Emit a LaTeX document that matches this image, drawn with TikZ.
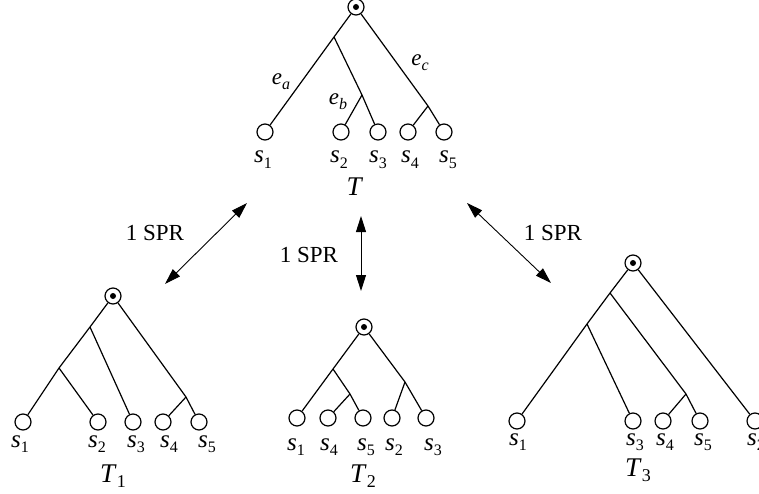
\documentclass[tikz,border=0pt]{standalone}
\usepackage{fontspec}
\setmainfont{Liberation Serif}
\usetikzlibrary{arrows.meta}
\newcommand\lab[2]{\textit{#1}\raisebox{-0.22em}{\fontsize{16}{16}\selectfont #2}}
\newcommand\labT[2]{\textit{#1}\raisebox{-0.2em}{\fontsize{18}{18}\selectfont #2}}
\begin{document}
\begin{tikzpicture}[x=1pt,y=-1pt, line width=1.2pt,
  leaf/.style={draw,circle,minimum size=16pt,inner sep=0pt},
  rootnode/.style={draw,circle,minimum size=16pt,inner sep=0pt},
  txt/.style={font=\fontsize{23}{25}\selectfont, inner sep=0pt},
  sl/.style={font=\fontsize{25}{27}\selectfont, inner sep=0pt, anchor=base},
  tl/.style={font=\fontsize{27}{29}\selectfont, inner sep=0pt, anchor=base},
  dbl/.style={{Triangle[length=16pt,width=10pt]}-{Triangle[length=16pt,width=10pt]}}]
\useasboundingbox (0,0) rectangle (759,494);
\newcommand\rootdot[1]{\fill (#1.center) circle (3pt);}

% ---------------- Tree T ----------------
\node[rootnode] (r) at (356,7) {}; \rootdot{r}
\coordinate (ta) at (334,37);
\coordinate (tb) at (362,95);
\coordinate (tc) at (428,106);
\node[leaf] (t1) at (265,132) {};
\node[leaf] (t2) at (341,132) {};
\node[leaf] (t3) at (378,132) {};
\node[leaf] (t4) at (408,132) {};
\node[leaf] (t5) at (444,132) {};
\draw (r) -- (ta) -- (t1);
\draw (ta) -- (tb) -- (t3);
\draw (tb) -- (t2);
\draw (r) -- (tc) -- (t5);
\draw (tc) -- (t4);
\node[sl] (lt1) at (263,163) {\lab{s}{1}};
\node[sl] (lt2) at (339,163) {\lab{s}{2}};
\node[sl] (lt3) at (378,163) {\lab{s}{3}};
\node[sl] (lt4) at (410,163) {\lab{s}{4}};
\node[sl] (lt5) at (448,163) {\lab{s}{5}};
\node[txt] (ea) at (281,82) {\lab{e}{\textit{a}}};
\node[txt] (eb) at (338,102) {\lab{e}{\textit{b}}};
\node[txt] (ec) at (420,63) {\lab{e}{\textit{c}}};
\node[tl] (tT) at (355,196) {\textit{T}};

% ---------------- Tree T1 ----------------
\node[rootnode] (r1) at (113,296) {}; \rootdot{r1}
\coordinate (aa) at (90,327);
\coordinate (ab) at (59,368);
\coordinate (ac) at (186,397);
\node[leaf] (a1) at (23,422) {};
\node[leaf] (a2) at (98,422) {};
\node[leaf] (a3) at (133,422) {};
\node[leaf] (a4) at (163,422) {};
\node[leaf] (a5) at (199,422) {};
\draw (r1) -- (aa) -- (ab) -- (a1);
\draw (aa) -- (a3);
\draw (ab) -- (a2);
\draw (r1) -- (ac) -- (a5);
\draw (ac) -- (a4);
\node[sl] (la1) at (20,447) {\lab{s}{1}};
\node[sl] (la2) at (97,447) {\lab{s}{2}};
\node[sl] (la3) at (136,447) {\lab{s}{3}};
\node[sl] (la4) at (169,447) {\lab{s}{4}};
\node[sl] (la5) at (207,447) {\lab{s}{5}};
\node[tl] (lT1) at (113,482) {\labT{T}{1}};

% ---------------- Tree T2 ----------------
\node[rootnode] (r2) at (364,327) {}; \rootdot{r2}
\coordinate (ba) at (333,369);
\coordinate (bb) at (350,394);
\coordinate (bc) at (405,382);
\node[leaf] (b1) at (297,418) {};
\node[leaf] (b4) at (328,418) {};
\node[leaf] (b5) at (363,418) {};
\node[leaf] (b2) at (392,418) {};
\node[leaf] (b3) at (426,418) {};
\draw (r2) -- (ba) -- (b1);
\draw (ba) -- (bb) -- (b5);
\draw (bb) -- (b4);
\draw (r2) -- (bc) -- (b3);
\draw (bc) -- (b2);
\node[sl] (lb1) at (296,450) {\lab{s}{1}};
\node[sl] (lb4) at (329,450) {\lab{s}{4}};
\node[sl] (lb5) at (366,450) {\lab{s}{5}};
\node[sl] (lb2) at (394,450) {\lab{s}{2}};
\node[sl] (lb3) at (433,450) {\lab{s}{3}};
\node[tl] (lT2) at (363,482) {\labT{T}{2}};

% ---------------- Tree T3 ----------------
\node[rootnode] (r3) at (633,263) {}; \rootdot{r3}
\coordinate (ca) at (610,293);
\coordinate (cb) at (587,324);
\coordinate (cc) at (686,394);
\node[leaf] (c1) at (517,421) {};
\node[leaf] (c3) at (633,421) {};
\node[leaf] (c4) at (663,421) {};
\node[leaf] (c5) at (700,421) {};
\node[leaf] (c2) at (755,421) {};
\draw (r3) -- (ca) -- (cb) -- (c1);
\draw (cb) -- (c3);
\draw (ca) -- (cc) -- (c5);
\draw (cc) -- (c4);
\draw (r3) -- (c2);
\node[sl] (lc1) at (518,445) {\lab{s}{1}};
\node[sl] (lc3) at (635,445) {\lab{s}{3}};
\node[sl] (lc4) at (665,445) {\lab{s}{4}};
\node[sl] (lc5) at (703,445) {\lab{s}{5}};
\node[sl] (lc2) at (756,445) {\lab{s}{2}};
\node[tl] (lT3) at (638,476) {\labT{T}{3}};

% ---------------- SPR arrows ----------------
\coordinate (pl1) at (247,203);
\coordinate (pl2) at (165,284);
\coordinate (pm1) at (361,216);
\coordinate (pm2) at (361,291);
\coordinate (pr1) at (467,203);
\coordinate (pr2) at (551,283);
\draw[dbl,line width=0.9pt] (pl1) -- (pl2);
\draw[dbl,line width=0.9pt] (pm1) -- (pm2);
\draw[dbl,line width=0.9pt] (pr1) -- (pr2);
\node[txt] (spl) at (155,233) {1 SPR};
\node[txt] (spm) at (309,255) {1 SPR};
\node[txt] (spr) at (553,233) {1 SPR};
\end{tikzpicture}
\end{document}
